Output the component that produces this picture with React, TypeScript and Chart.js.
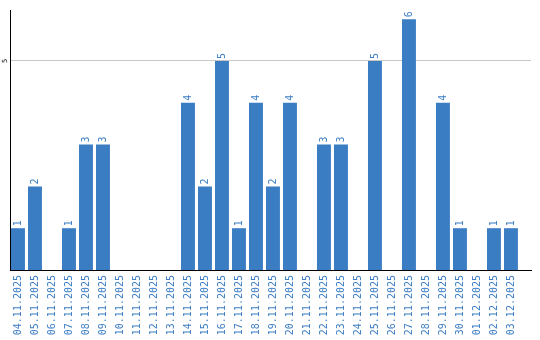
import React, { useEffect, useRef } from "react";
import { Chart, registerables } from "chart.js";

Chart.register(...registerables);

const dates = [
  "04.11.2025", "05.11.2025", "06.11.2025", "07.11.2025", "08.11.2025",
  "09.11.2025", "10.11.2025", "11.11.2025", "12.11.2025", "13.11.2025",
  "14.11.2025", "15.11.2025", "16.11.2025", "17.11.2025", "18.11.2025",
  "19.11.2025", "20.11.2025", "21.11.2025", "22.11.2025", "23.11.2025",
  "24.11.2025", "25.11.2025", "26.11.2025", "27.11.2025", "28.11.2025",
  "29.11.2025", "30.11.2025", "01.12.2025", "02.12.2025", "03.12.2025",
];
const counts = [1, 2, 0, 1, 3, 3, 0, 0, 0, 0, 4, 2, 5, 1, 4, 2, 4, 0, 3, 3, 0, 5, 0, 6, 0, 4, 1, 0, 1, 1];
const yTicks = [5];
const yMax = 6.22;

const BAR = "#3b7dc3";
const TEXT_BLUE = "#3b7dc3";
const MONO = "'DejaVu Sans Mono', monospace";

const valueLabels = {
  id: "valueLabels",
  afterDatasetsDraw(chart: any) {
    const ctx = chart.ctx;
    const meta = chart.getDatasetMeta(0);
    ctx.save();
    ctx.font = `10px ${MONO}`;
    ctx.fillStyle = TEXT_BLUE;
    ctx.textAlign = "left";
    ctx.textBaseline = "middle";
    meta.data.forEach((bar: any, i: number) => {
      const v = counts[i];
      if (!v) return;
      ctx.save();
      ctx.translate(bar.x, bar.y - 2);
      ctx.rotate(-Math.PI / 2);
      ctx.fillText(String(v), 0, 0);
      ctx.restore();
    });
    ctx.restore();
  },
};

export default function App() {
  const ref = useRef<HTMLCanvasElement>(null);
  useEffect(() => {
    document.body.style.margin = "0";
    const chart = new Chart(ref.current!, {
      type: "bar",
      data: {
        datasets: [
          {
            data: counts.map((v, i) => ({ x: i, y: v })),
            backgroundColor: BAR,
            borderWidth: 0,
            categoryPercentage: 1,
            barPercentage: 0.82,
          },
        ],
      },
      options: {
        animation: false,
        responsive: true,
        maintainAspectRatio: false,
        layout: { padding: { top: 10, right: 9, left: 0, bottom: 0 } },
        plugins: { legend: { display: false }, tooltip: { enabled: false } },
        scales: {
          x: {
            type: "linear",
            offset: false,
            min: -0.47,
            max: 30.18,
            grid: { display: false, drawTicks: false, offset: false },
            border: { display: true, color: "#000", width: 1 },
            afterBuildTicks: (scale: any) => {
              scale.ticks = dates.map((_, i) => ({ value: i }));
            },
            afterFit: (scale: any) => {
              scale.height = 70;
              scale.paddingLeft = 0;
              scale.paddingRight = 0;
            },
            ticks: {
              autoSkip: false,
              minRotation: 90,
              maxRotation: 90,
              padding: 5,
              color: TEXT_BLUE,
              font: { family: MONO, size: 10 },
              callback: (v: any) => dates[v] ?? "",
            },
          },
          y: {
            min: 0,
            max: yMax,
            grid: { color: "#c8c8c8", drawTicks: false },
            border: { display: true, color: "#000", width: 1 },
            afterBuildTicks: (scale: any) => {
              scale.ticks = yTicks.map((v) => ({ value: v }));
            },
            afterFit: (scale: any) => {
              scale.width = 10;
              scale.paddingTop = 0;
              scale.paddingBottom = 0;
            },
            ticks: {
              minRotation: 90,
              maxRotation: 90,
              crossAlign: "center",
              padding: 3,
              color: "#000",
              font: { family: MONO, size: 7 },
              callback: (v: any) => String(v),
            },
          },
        },
      },
      plugins: [valueLabels],
    });
    return () => chart.destroy();
  }, []);
  return (
    <div style={{ width: 540, height: 340, position: "relative" }}>
      <canvas ref={ref} />
    </div>
  );
}
